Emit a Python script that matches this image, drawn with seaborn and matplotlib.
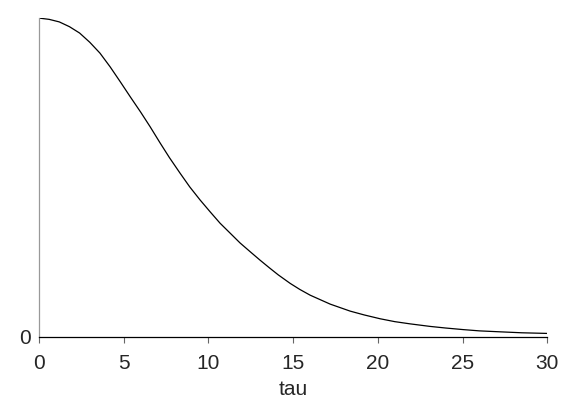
import numpy as np
import pandas as pd
import seaborn as sns
import matplotlib.pyplot as plt

# values
tau = [0.0, 0.6, 1.2, 1.8, 2.4, 3.0, 3.6, 4.2, 4.8, 5.4, 6.0, 6.56, 7.15,
       7.7, 8.33, 8.9, 9.51, 10.1, 10.69, 11.3, 11.87, 12.5, 13.05, 13.6,
       14.12, 14.83, 15.4, 16.01, 17.19, 18.37, 19.2, 20.14, 21.0, 21.91,
       23.09, 24.0, 25.04, 26.0, 27.23, 28.5, 30.0]
acf = [1.000, 0.996, 0.988, 0.973, 0.953, 0.924, 0.890, 0.847, 0.800, 0.752,
       0.705, 0.659, 0.608, 0.562, 0.513, 0.470, 0.429, 0.392, 0.356, 0.324,
       0.294, 0.265, 0.240, 0.216, 0.194, 0.167, 0.148, 0.130, 0.102, 0.080,
       0.068, 0.056, 0.047, 0.040, 0.032, 0.027, 0.022, 0.018, 0.015, 0.012,
       0.010]
xticks = [0, 5, 10, 15, 20, 25, 30]

sns.set_style("white")
plt.rcParams['font.family'] = ['Liberation Sans', 'DejaVu Sans']

df = pd.DataFrame({"tau": tau, "acf": acf})

fig = plt.figure(figsize=(5.73, 4.11), dpi=100)
ax = fig.add_axes([0.068, 0.181, 0.887, 0.775])

sns.lineplot(data=df, x="tau", y="acf", color="black", linewidth=0.9, ax=ax)

ax.set_xlim(0, 30)
ax.set_ylim(0, 1)
ax.set_xticks(xticks)
ax.set_xticklabels([str(t) for t in xticks])
ax.set_yticks([0])
ax.set_yticklabels(["0"])
ax.tick_params(axis="x", direction="out", length=4.5, width=0.8, color="#666666",
               labelsize=15, pad=8, bottom=True)
ax.tick_params(axis="y", length=0, labelsize=15, pad=6, left=True)
ax.set_xlabel("tau", fontsize=15, labelpad=5)
ax.set_ylabel("")

for side in ["top", "right"]:
    ax.spines[side].set_visible(False)
ax.spines["left"].set_color("#999999")
ax.spines["left"].set_linewidth(0.9)
ax.spines["bottom"].set_color("black")
ax.spines["bottom"].set_linewidth(0.9)

fig.savefig("out.png", dpi=100)
